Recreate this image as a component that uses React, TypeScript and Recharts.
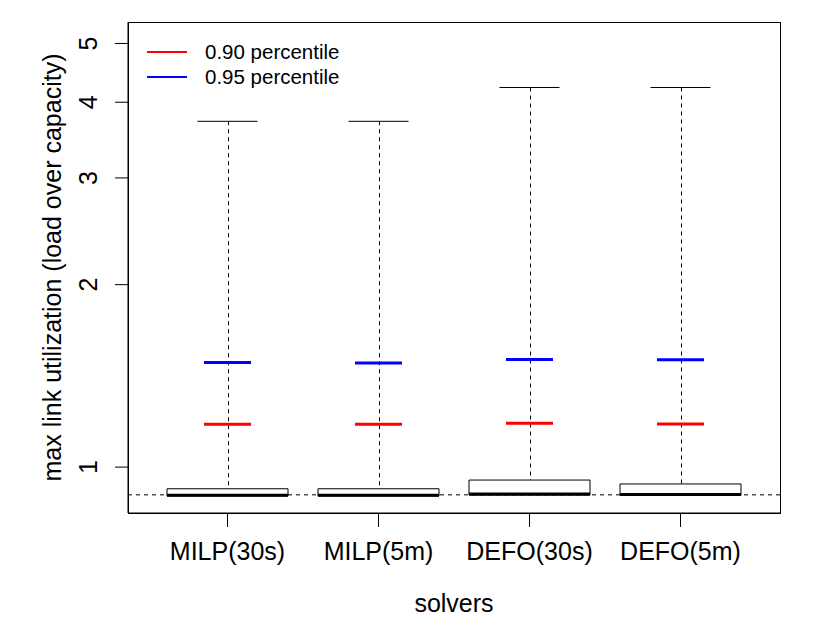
import React from "react";
import * as Recharts from "recharts";
import {
  ComposedChart,
  Bar,
  Scatter,
  XAxis,
  YAxis,
  ReferenceLine,
  Legend,
} from "recharts";

const solvers = ["MILP(30s)", "MILP(5m)", "DEFO(30s)", "DEFO(5m)"];
const lowerQuartile = [0.896, 0.896, 0.899, 0.898];
const medians = [0.899, 0.899, 0.903, 0.901];
const upperQuartile = [0.921, 0.921, 0.952, 0.938];
const maxima = [3.72, 3.72, 4.23, 4.23];
const pct90 = [1.177, 1.177, 1.181, 1.178];
const pct95 = [1.488, 1.485, 1.505, 1.503];
const yTicks = [1, 2, 3, 4, 5];
const yDomain = [0.84, 5.425];
const refLevel = 0.9;

const FONT = '"Liberation Sans", Arial, Helvetica, sans-serif';
const RED = "#ff0000";
const BLUE = "#0000ff";

const rows = solvers.map((name, i) => ({
  name,
  box: [lowerQuartile[i], upperQuartile[i]],
  whisker: [upperQuartile[i], maxima[i]],
  median: medians[i],
  max: maxima[i],
  p90: pct90[i],
  p95: pct95[i],
}));

// plot frame (R's box()) drawn from the chart's own plot area
const usePlotAreaHook: any = (Recharts as any).usePlotArea;
const PlotFrame = () => {
  const area = usePlotAreaHook ? usePlotAreaHook() : null;
  if (!area) return null;
  return (
    <rect
      x={Math.round(area.x) + 0.5}
      y={Math.round(area.y) + 0.5}
      width={Math.round(area.width)}
      height={Math.round(area.height)}
      fill="none"
      stroke="#000"
    />
  );
};

const hLine = (half: number, color: string, w: number) => (props: any) => (
  <line
    x1={props.cx - half}
    x2={props.cx + half}
    y1={props.cy}
    y2={props.cy}
    stroke={color}
    strokeWidth={w}
  />
);

const WhiskerShape = (props: any) => {
  const cx = Math.round(props.x + props.width / 2) + 0.5;
  return (
    <line
      x1={cx}
      x2={cx}
      y1={props.y}
      y2={props.y + props.height}
      stroke="#000"
      strokeDasharray="4 4"
    />
  );
};

const YTick = (props: any) => {
  const bx = props.x - 18;
  return (
    <text
      x={bx}
      y={props.y}
      transform={`rotate(-90 ${bx} ${props.y})`}
      textAnchor="middle"
      fontSize={25}
      fontFamily={FONT}
      fill="#000"
    >
      {props.payload.value}
    </text>
  );
};

const XTick = (props: any) => (
  <text
    x={props.x}
    y={props.y + 31}
    textAnchor="middle"
    fontSize={25}
    fontFamily={FONT}
    fill="#000"
  >
    {props.payload.value}
  </text>
);

const LegendBox = (props: any) => {
  const items = (props.payload || []).filter((p: any) => p.type !== "none");
  return (
    <div style={{ fontFamily: FONT, fontSize: 20.5, color: "#000" }}>
      {items.map((e: any) => (
        <div
          key={e.value}
          style={{ display: "flex", alignItems: "center", height: 25 }}
        >
          <svg width={40} height={4} style={{ display: "block" }}>
            <line x1={0} x2={40} y1={2} y2={2} stroke={e.color} strokeWidth={2} />
          </svg>
          <span style={{ marginLeft: 18, whiteSpace: "nowrap" }}>{e.value}</span>
        </div>
      ))}
    </div>
  );
};

export default function App() {
  return (
    <div style={{ position: "absolute", left: 0, top: 0, background: "#fff" }}>
      <ComposedChart
        width={830}
        height={642}
        data={rows}
        margin={{ top: 22, right: 50, bottom: 89, left: 8 }}
      >
        <XAxis
          xAxisId="box"
          dataKey="name"
          padding={{ left: 24, right: 24 }}
          height={40}
          tickSize={14}
          tickMargin={2}
          tickLine={{ stroke: "#000" }}
          axisLine={{ stroke: "#000" }}
          tick={<XTick />}
          interval={0}
          label={(p: any) => (
            <text
              x={p.viewBox.x + p.viewBox.width / 2}
              y={612}
              textAnchor="middle"
              fontSize={25}
              fontFamily={FONT}
              fill="#000"
            >
              solvers
            </text>
          )}
        />
        <XAxis
          xAxisId="wh"
          dataKey="name"
          padding={{ left: 24, right: 24 }}
          hide
        />
        <YAxis
          scale="log"
          type="number"
          domain={yDomain}
          allowDataOverflow
          ticks={yTicks}
          width={120}
          tickSize={13}
          tickMargin={0}
          tickLine={{ stroke: "#000" }}
          axisLine={{ stroke: "#000" }}
          tick={<YTick />}
          label={(p: any) => {
            const cy = p.viewBox.y + p.viewBox.height / 2;
            return (
              <text
                x={61}
                y={cy}
                transform={`rotate(-90 61 ${cy})`}
                textAnchor="middle"
                fontSize={25}
                fontFamily={FONT}
                fill="#000"
              >
                max link utilization (load over capacity)
              </text>
            );
          }}
        />
        <PlotFrame />
        <ReferenceLine
          xAxisId="box"
          y={refLevel}
          stroke="#000"
          strokeDasharray="4 4"
        />
        <Bar
          xAxisId="wh"
          dataKey="whisker"
          barSize={10}
          shape={<WhiskerShape />}
          legendType="none"
          isAnimationActive={false}
        />
        <Bar
          xAxisId="box"
          dataKey="box"
          barSize={121}
          fill="#fff"
          stroke="#000"
          strokeWidth={1}
          legendType="none"
          isAnimationActive={false}
        />
        <Scatter
          xAxisId="box"
          dataKey="median"
          shape={hLine(60.5, "#000", 3)}
          legendType="none"
          isAnimationActive={false}
        />
        <Scatter
          xAxisId="box"
          dataKey="max"
          shape={hLine(30, "#000", 1)}
          legendType="none"
          isAnimationActive={false}
        />
        <Scatter
          xAxisId="box"
          dataKey="p90"
          name="0.90 percentile"
          fill={RED}
          shape={hLine(23.5, RED, 3)}
          isAnimationActive={false}
        />
        <Scatter
          xAxisId="box"
          dataKey="p95"
          name="0.95 percentile"
          fill={BLUE}
          shape={hLine(23.5, BLUE, 3)}
          isAnimationActive={false}
        />
        <Legend
          layout="horizontal"
          verticalAlign="middle"
          align="center"
          wrapperStyle={{ top: 39, left: 147, width: "auto" }}
          content={<LegendBox />}
        />
      </ComposedChart>
    </div>
  );
}
